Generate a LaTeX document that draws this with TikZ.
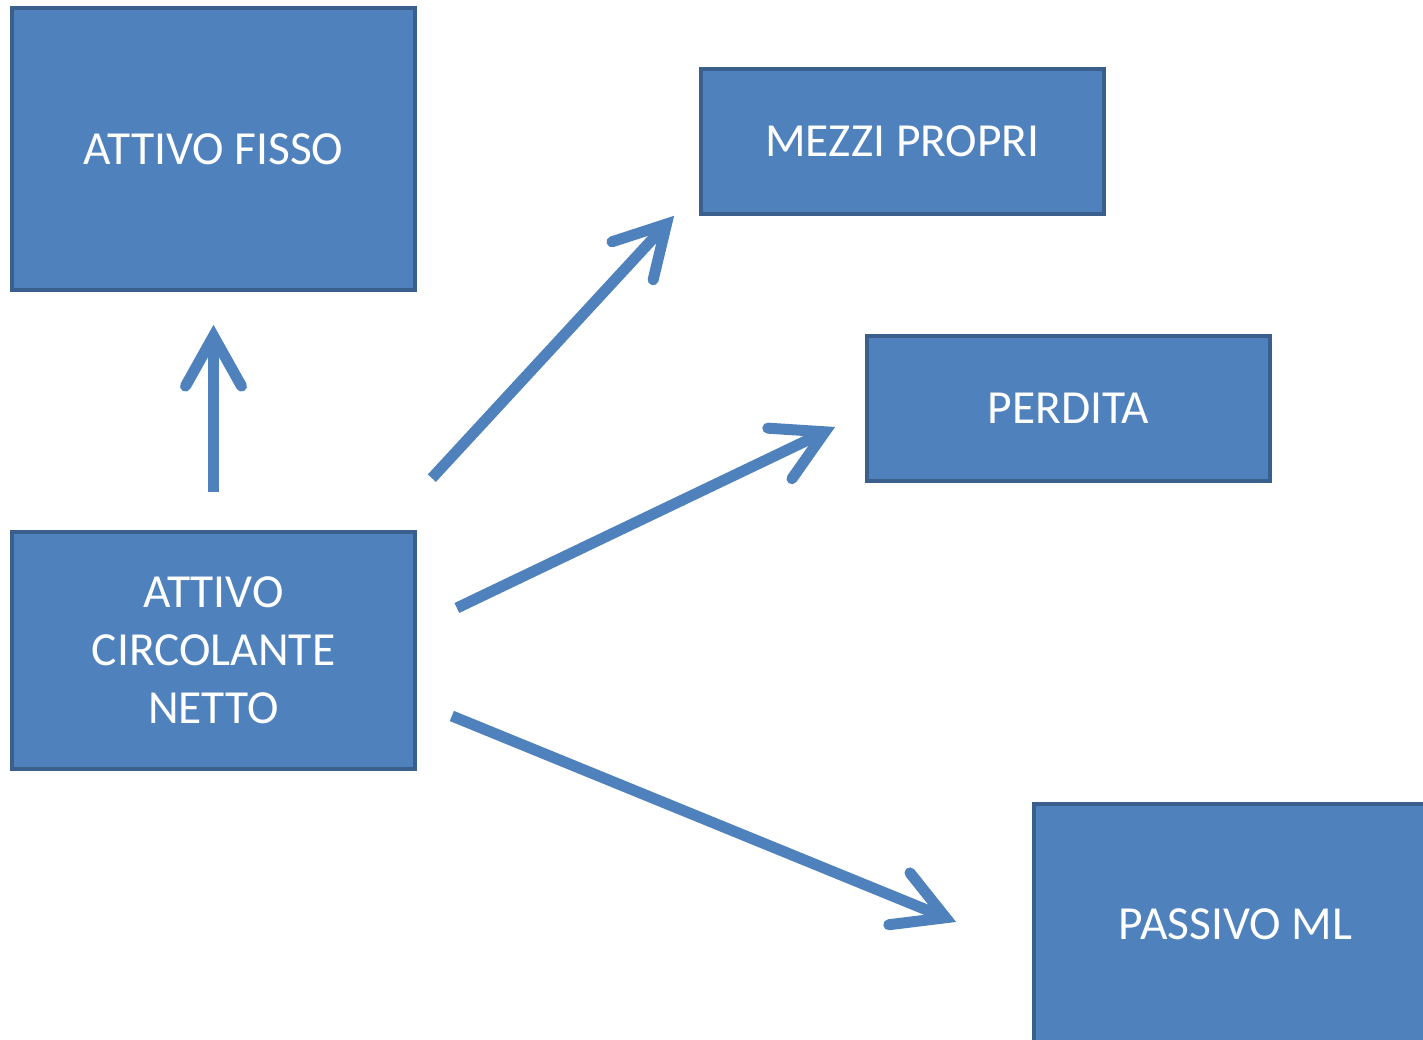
\documentclass[tikz,border=0pt]{standalone}
\usepackage{fontspec}
\setmainfont{Carlito}
\usetikzlibrary{arrows.meta}
\definecolor{boxfill}{HTML}{4F81BD}
\definecolor{boxline}{HTML}{3A5F8C}
\begin{document}
\begin{tikzpicture}[x=0.01cm,y=0.01cm,line join=miter,>={Straight Barb[length=0.5cm,width=0.56cm,line cap=round,line join=miter]}]
	\tikzset{voce/.style={draw=boxline,fill=boxfill,line width=0.035cm,text=white,align=center,minimum width=4.03cm,inner sep=0pt,font=\fontsize{13.5}{16.5}\selectfont},
		freccia/.style={->,draw=boxfill,line width=0.11cm,line cap=butt}}
	\useasboundingbox (0,0) rectangle (1423,1040);
	\clip (0,0) rectangle (1423,1040);
	\node[voce,minimum height=2.82cm] (af) at (213.5,891) {ATTIVO FISSO};
	\node[voce,minimum height=1.45cm] (mp) at (902.5,898.5) {MEZZI PROPRI};
	\node[voce,minimum height=1.45cm] (pe) at (1068.5,631.5) {PERDITA};
	\node[voce,minimum height=2.37cm] (acn) at (213.5,389.5) {ATTIVO\\CIRCOLANTE\\NETTO};
	\node[voce,minimum height=2.40cm] (pml) at (1235.5,116) {PASSIVO ML};
	\draw[freccia] ([yshift=0.38cm]acn.north)--([yshift=-0.33cm]af.south);
	\draw[freccia] ([shift={(15,52)}]acn.north east)--([shift={(-25,0)}]mp.south west);
	\draw[freccia] ([shift={(40,42.5)}]acn.east)--([shift={(-30,-18.5)}]pe.west);
	\draw[freccia] ([shift={(35,-65.5)}]acn.east)--([shift={(-76,2)}]pml.west);
\end{tikzpicture}
\end{document}
